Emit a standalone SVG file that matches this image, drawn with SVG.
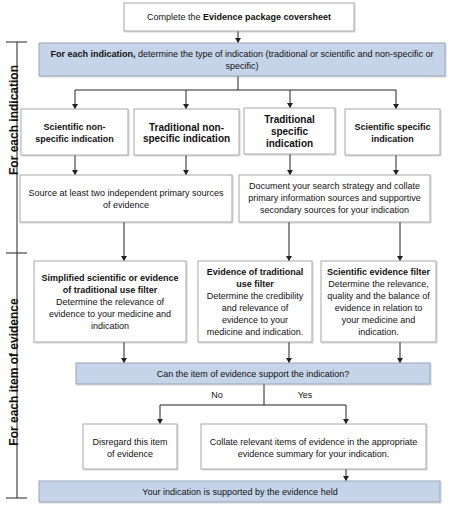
<svg xmlns="http://www.w3.org/2000/svg" width="450" height="516" viewBox="0 0 450 516">
<defs>
<marker id="ah" markerUnits="userSpaceOnUse" markerWidth="6" markerHeight="6" refX="5" refY="3" orient="auto">
<path d="M0,0 L5,3 L0,6 z" fill="#222"/>
</marker>
<filter id="sh" x="-5%" y="-5%" width="115%" height="125%">
<feDropShadow dx="1" dy="1" stdDeviation="0.6" flood-color="#000" flood-opacity="0.18"/>
</filter>
</defs>
<style>
.box{fill:#fff;stroke:#a8a8a8;stroke-width:1;filter:url(#sh)}
.blue{fill:#c6d4e9;stroke:#9aa6b8;stroke-width:1;filter:url(#sh)}
.t{font-family:"Liberation Sans",Arial,sans-serif;font-size:9px;fill:#111;text-anchor:middle}
.b{font-weight:bold}
.b10{font-weight:bold;font-size:10px}
.c{stroke:#222;stroke-width:1;fill:none}
.a{stroke:#222;stroke-width:1;fill:none;marker-end:url(#ah)}
.side{font-family:"Liberation Sans",Arial,sans-serif;font-size:12px;font-weight:bold;fill:#111;text-anchor:middle}
</style>
<rect width="450" height="516" fill="#fff"/>

<g id="connectors">
<line class="a" x1="238" y1="31" x2="238" y2="43"/>
<line class="c" x1="238" y1="76" x2="238" y2="90"/>
<line class="c" x1="75" y1="90" x2="396" y2="90"/>
<line class="a" x1="75" y1="90" x2="75" y2="109"/>
<line class="a" x1="186" y1="90" x2="186" y2="109"/>
<line class="a" x1="290" y1="90" x2="290" y2="108"/>
<line class="a" x1="396" y1="90" x2="396" y2="109"/>
<line class="a" x1="75" y1="155" x2="75" y2="175"/>
<line class="a" x1="186" y1="155" x2="186" y2="175"/>
<line class="a" x1="290" y1="154" x2="290" y2="175"/>
<line class="a" x1="396" y1="155" x2="396" y2="175"/>
<line class="a" x1="124" y1="222" x2="124" y2="261"/>
<line class="a" x1="289" y1="222" x2="289" y2="261"/>
<line class="a" x1="400" y1="222" x2="400" y2="261"/>
<line class="a" x1="124" y1="342" x2="124" y2="363"/>
<line class="a" x1="289" y1="342" x2="289" y2="363"/>
<line class="a" x1="400" y1="342" x2="400" y2="363"/>
<line class="c" x1="264" y1="384" x2="264" y2="405"/>
<line class="c" x1="160" y1="405" x2="346" y2="405"/>
<line class="a" x1="160" y1="405" x2="160" y2="424"/>
<line class="a" x1="346" y1="405" x2="346" y2="424"/>
<line class="a" x1="346" y1="469" x2="346" y2="481"/>
<text class="t" x="217" y="398">No</text>
<text class="t" x="305" y="398">Yes</text>
</g>

<g id="side-bracket">
<line class="c" x1="17" y1="42" x2="17" y2="498"/>
<line class="c" x1="6" y1="42" x2="27" y2="42"/>
<line class="c" x1="6" y1="253" x2="27" y2="253"/>
<line class="c" x1="6" y1="498" x2="27" y2="498"/>
<text class="side" transform="translate(18,120) rotate(-90)">For each indication</text>
<text class="side" transform="translate(18,372) rotate(-90)">For each item of evidence</text>
</g>

<g id="coversheet">
<rect class="box" x="124" y="3" width="230" height="28"/>
<text class="t" x="239" y="20">Complete the <tspan class="b">Evidence package coversheet</tspan></text>
</g>

<g id="determine-type">
<rect class="blue" x="39" y="43" width="406" height="33"/>
<text class="t" x="242" y="57"><tspan class="b">For each indication,</tspan> determine the type of indication (traditional or scientific and non-specific or</text>
<text class="t" x="242" y="69">specific)</text>
</g>

<g id="sci-nonspecific">
<rect class="box" x="21" y="109" width="107" height="46"/>
<text class="t b" x="74.5" y="130">Scientific non-</text>
<text class="t b" x="74.5" y="141.5">specific indication</text>
</g>

<g id="trad-nonspecific">
<rect class="box" x="134" y="109" width="105" height="46"/>
<text class="t b10" x="186.5" y="130.5">Traditional non-</text>
<text class="t b10" x="186.5" y="142">specific indication</text>
</g>

<g id="trad-specific">
<rect class="box" x="244" y="108" width="91" height="46"/>
<text class="t b10" x="289.5" y="122.5">Traditional</text>
<text class="t b10" x="289.5" y="134.5">specific</text>
<text class="t b10" x="289.5" y="146.5">indication</text>
</g>

<g id="sci-specific">
<rect class="box" x="345" y="109" width="95" height="46"/>
<text class="t b" x="392.5" y="130">Scientific specific</text>
<text class="t b" x="392.5" y="141.5">indication</text>
</g>

<g id="source-two">
<rect class="box" x="20" y="175" width="212" height="47"/>
<text class="t" x="126" y="196">Source at least two independent primary sources</text>
<text class="t" x="126" y="207.5">of evidence</text>
</g>

<g id="document-search">
<rect class="box" x="239" y="175" width="191" height="47"/>
<text class="t" x="334.5" y="189">Document your search strategy and collate</text>
<text class="t" x="334.5" y="201">primary information sources and supportive</text>
<text class="t" x="334.5" y="212.5">secondary sources for your indication</text>
</g>

<g id="filter-simplified">
<rect class="box" x="34" y="261" width="152" height="81"/>
<text class="t b" x="110" y="281">Simplified scientific or evidence</text>
<text class="t b" x="110" y="293">of traditional use filter</text>
<text class="t" x="110" y="305">Determine the relevance of</text>
<text class="t" x="110" y="317">evidence to your medicine and</text>
<text class="t" x="110" y="329">indication</text>
</g>

<g id="filter-traditional">
<rect class="box" x="198" y="261" width="114" height="81"/>
<text class="t b" x="255" y="275">Evidence of traditional</text>
<text class="t b" x="255" y="287">use filter</text>
<text class="t" x="255" y="299">Determine the credibility</text>
<text class="t" x="255" y="311">and relevance of</text>
<text class="t" x="255" y="323">evidence to your</text>
<text class="t" x="255" y="335">medicine and indication.</text>
</g>

<g id="filter-scientific">
<rect class="box" x="321" y="261" width="115" height="81"/>
<text class="t b" x="378.5" y="275">Scientific evidence filter</text>
<text class="t" x="378.5" y="287">Determine the relevance,</text>
<text class="t" x="378.5" y="299">quality and the balance of</text>
<text class="t" x="378.5" y="311">evidence in relation to</text>
<text class="t" x="378.5" y="323">your medicine and</text>
<text class="t" x="378.5" y="335">indication.</text>
</g>

<g id="can-support">
<rect class="blue" x="76" y="363" width="354" height="21"/>
<text class="t" x="253" y="377">Can the item of evidence support the indication?</text>
</g>

<g id="disregard">
<rect class="box" x="83" y="424" width="94" height="45"/>
<text class="t" x="130" y="445">Disregard this item</text>
<text class="t" x="130" y="456.5">of evidence</text>
</g>

<g id="collate">
<rect class="box" x="201" y="424" width="225" height="45"/>
<text class="t" x="313.5" y="445">Collate relevant items of evidence in the appropriate</text>
<text class="t" x="313.5" y="456.5">evidence summary for your indication.</text>
</g>

<g id="supported">
<rect class="blue" x="39" y="481" width="401" height="21"/>
<text class="t" x="240" y="495">Your indication is supported by the evidence held</text>
</g>
</svg>
